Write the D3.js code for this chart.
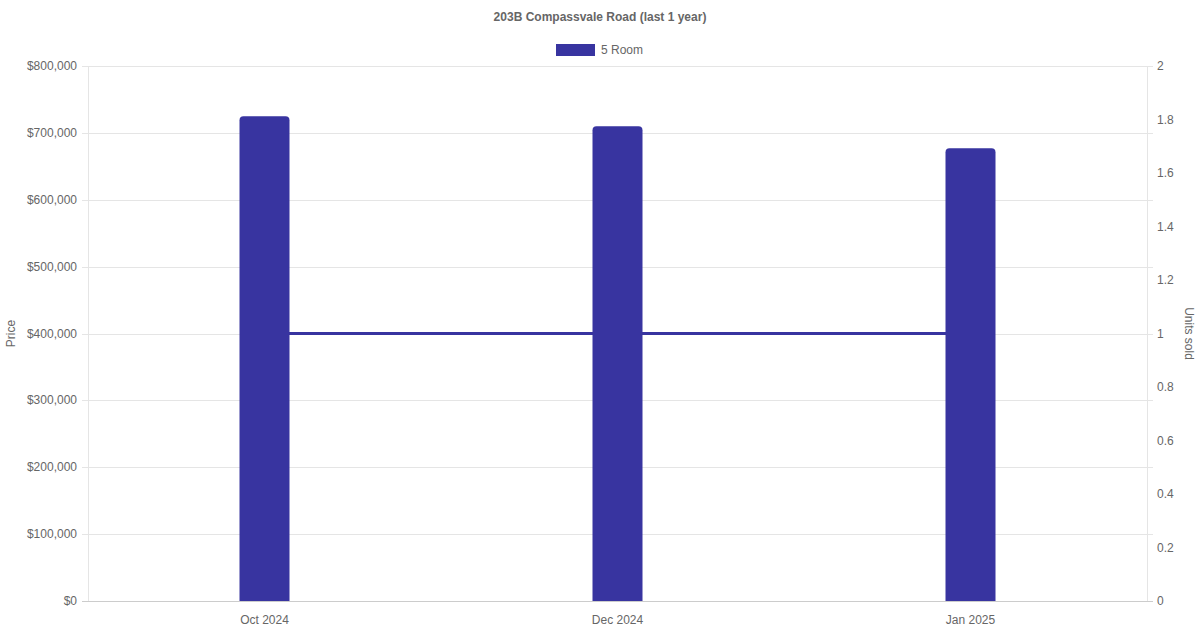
<!DOCTYPE html>
<html>
<head>
    <title>203B Compassvale Road</title>
    <script src="https://cdnjs.cloudflare.com/ajax/libs/d3/7.8.5/d3.min.js"></script>
    <style>
        body { margin: 0; background: #fff; }
        text { font-family: "Liberation Sans", Arial, sans-serif; fill: #666; }
    </style>
</head>
<body>
    <div id="vis"></div>

    <script>
        var months = ["Oct 2024", "Dec 2024", "Jan 2025"];
        var prices = [725000, 710000, 677000];
        var units = [1, 1, 1];
        var priceTicks = [0, 100000, 200000, 300000, 400000, 500000, 600000, 700000, 800000];
        var unitTicks = [0, 0.2, 0.4, 0.6, 0.8, 1, 1.2, 1.4, 1.6, 1.8, 2];

        var W = 1200, H = 630;
        var m = { left: 88, right: 1147, top: 66, bottom: 601 };
        var barColor = "#3834a0";

        var svg = d3.select("#vis").append("svg")
            .attr("width", W)
            .attr("height", H);

        var x = d3.scaleBand().domain(months).range([m.left, m.right]);
        var y = d3.scaleLinear().domain([0, 800000]).range([m.bottom, m.top]);
        var y2 = d3.scaleLinear().domain([0, 2]).range([m.bottom, m.top]);

        // grid
        svg.append("g").selectAll("line")
            .data(priceTicks)
            .enter().append("line")
            .attr("x1", m.left - 6)
            .attr("x2", m.right + 6)
            .attr("y1", function(d) { return Math.round(y(d)) + 0.5; })
            .attr("y2", function(d) { return Math.round(y(d)) + 0.5; })
            .style("stroke", function(d) { return d === 0 ? "#ccc" : "#e5e5e5"; });

        // vertical axis lines
        [m.left, m.right].forEach(function(px) {
            svg.append("line")
                .attr("x1", px + 0.5).attr("x2", px + 0.5)
                .attr("y1", m.top).attr("y2", m.bottom)
                .style("stroke", "#e5e5e5");
        });

        // left axis labels
        var fmt = d3.format(",");
        svg.append("g").selectAll("text")
            .data(priceTicks)
            .enter().append("text")
            .attr("x", m.left - 11)
            .attr("y", function(d) { return y(d) + 4; })
            .attr("text-anchor", "end")
            .style("font-size", "12px")
            .text(function(d) { return "$" + fmt(d); });

        // right axis labels
        svg.append("g").selectAll("text")
            .data(unitTicks)
            .enter().append("text")
            .attr("x", m.right + 10)
            .attr("y", function(d) { return y2(d) + 4; })
            .style("font-size", "12px")
            .text(function(d) { return d; });

        // x labels
        svg.append("g").selectAll("text")
            .data(months)
            .enter().append("text")
            .attr("x", function(d) { return x(d) + x.bandwidth() / 2; })
            .attr("y", m.bottom + 23)
            .attr("text-anchor", "middle")
            .style("font-size", "12px")
            .text(function(d) { return d; });

        // axis titles
        svg.append("text")
            .attr("transform", "translate(15," + ((m.top + m.bottom) / 2) + ") rotate(-90)")
            .attr("text-anchor", "middle")
            .style("font-size", "12px")
            .text("Price");

        svg.append("text")
            .attr("transform", "translate(1185," + ((m.top + m.bottom) / 2) + ") rotate(90)")
            .attr("text-anchor", "middle")
            .style("font-size", "12px")
            .text("Units sold");

        // units line (behind bars)
        var line = d3.line()
            .x(function(d, i) { return x(months[i]) + x.bandwidth() / 2; })
            .y(function(d) { return y2(d); });

        svg.append("path")
            .datum(units)
            .attr("d", line)
            .style("fill", "none")
            .style("stroke", barColor)
            .style("stroke-width", 3);

        // bars with rounded top corners
        var bw = 50, r = 4;
        svg.append("g").selectAll("path")
            .data(prices)
            .enter().append("path")
            .attr("d", function(d, i) {
                var cx = x(months[i]) + x.bandwidth() / 2;
                var x0 = cx - bw / 2, x1 = cx + bw / 2;
                var yt = y(d), yb = y(0);
                return "M" + x0 + "," + yb +
                    "L" + x0 + "," + (yt + r) +
                    "Q" + x0 + "," + yt + " " + (x0 + r) + "," + yt +
                    "L" + (x1 - r) + "," + yt +
                    "Q" + x1 + "," + yt + " " + x1 + "," + (yt + r) +
                    "L" + x1 + "," + yb + "Z";
            })
            .style("fill", barColor);

        // title
        svg.append("text")
            .attr("x", W / 2)
            .attr("y", 21)
            .attr("text-anchor", "middle")
            .style("font-size", "12px")
            .style("font-weight", "bold")
            .text("203B Compassvale Road (last 1 year)");

        // legend
        svg.append("rect")
            .attr("x", 556)
            .attr("y", 44)
            .attr("width", 39)
            .attr("height", 12)
            .style("fill", barColor);

        svg.append("text")
            .attr("x", 601)
            .attr("y", 54)
            .style("font-size", "12px")
            .text("5 Room");
    </script>
</body>
</html>
